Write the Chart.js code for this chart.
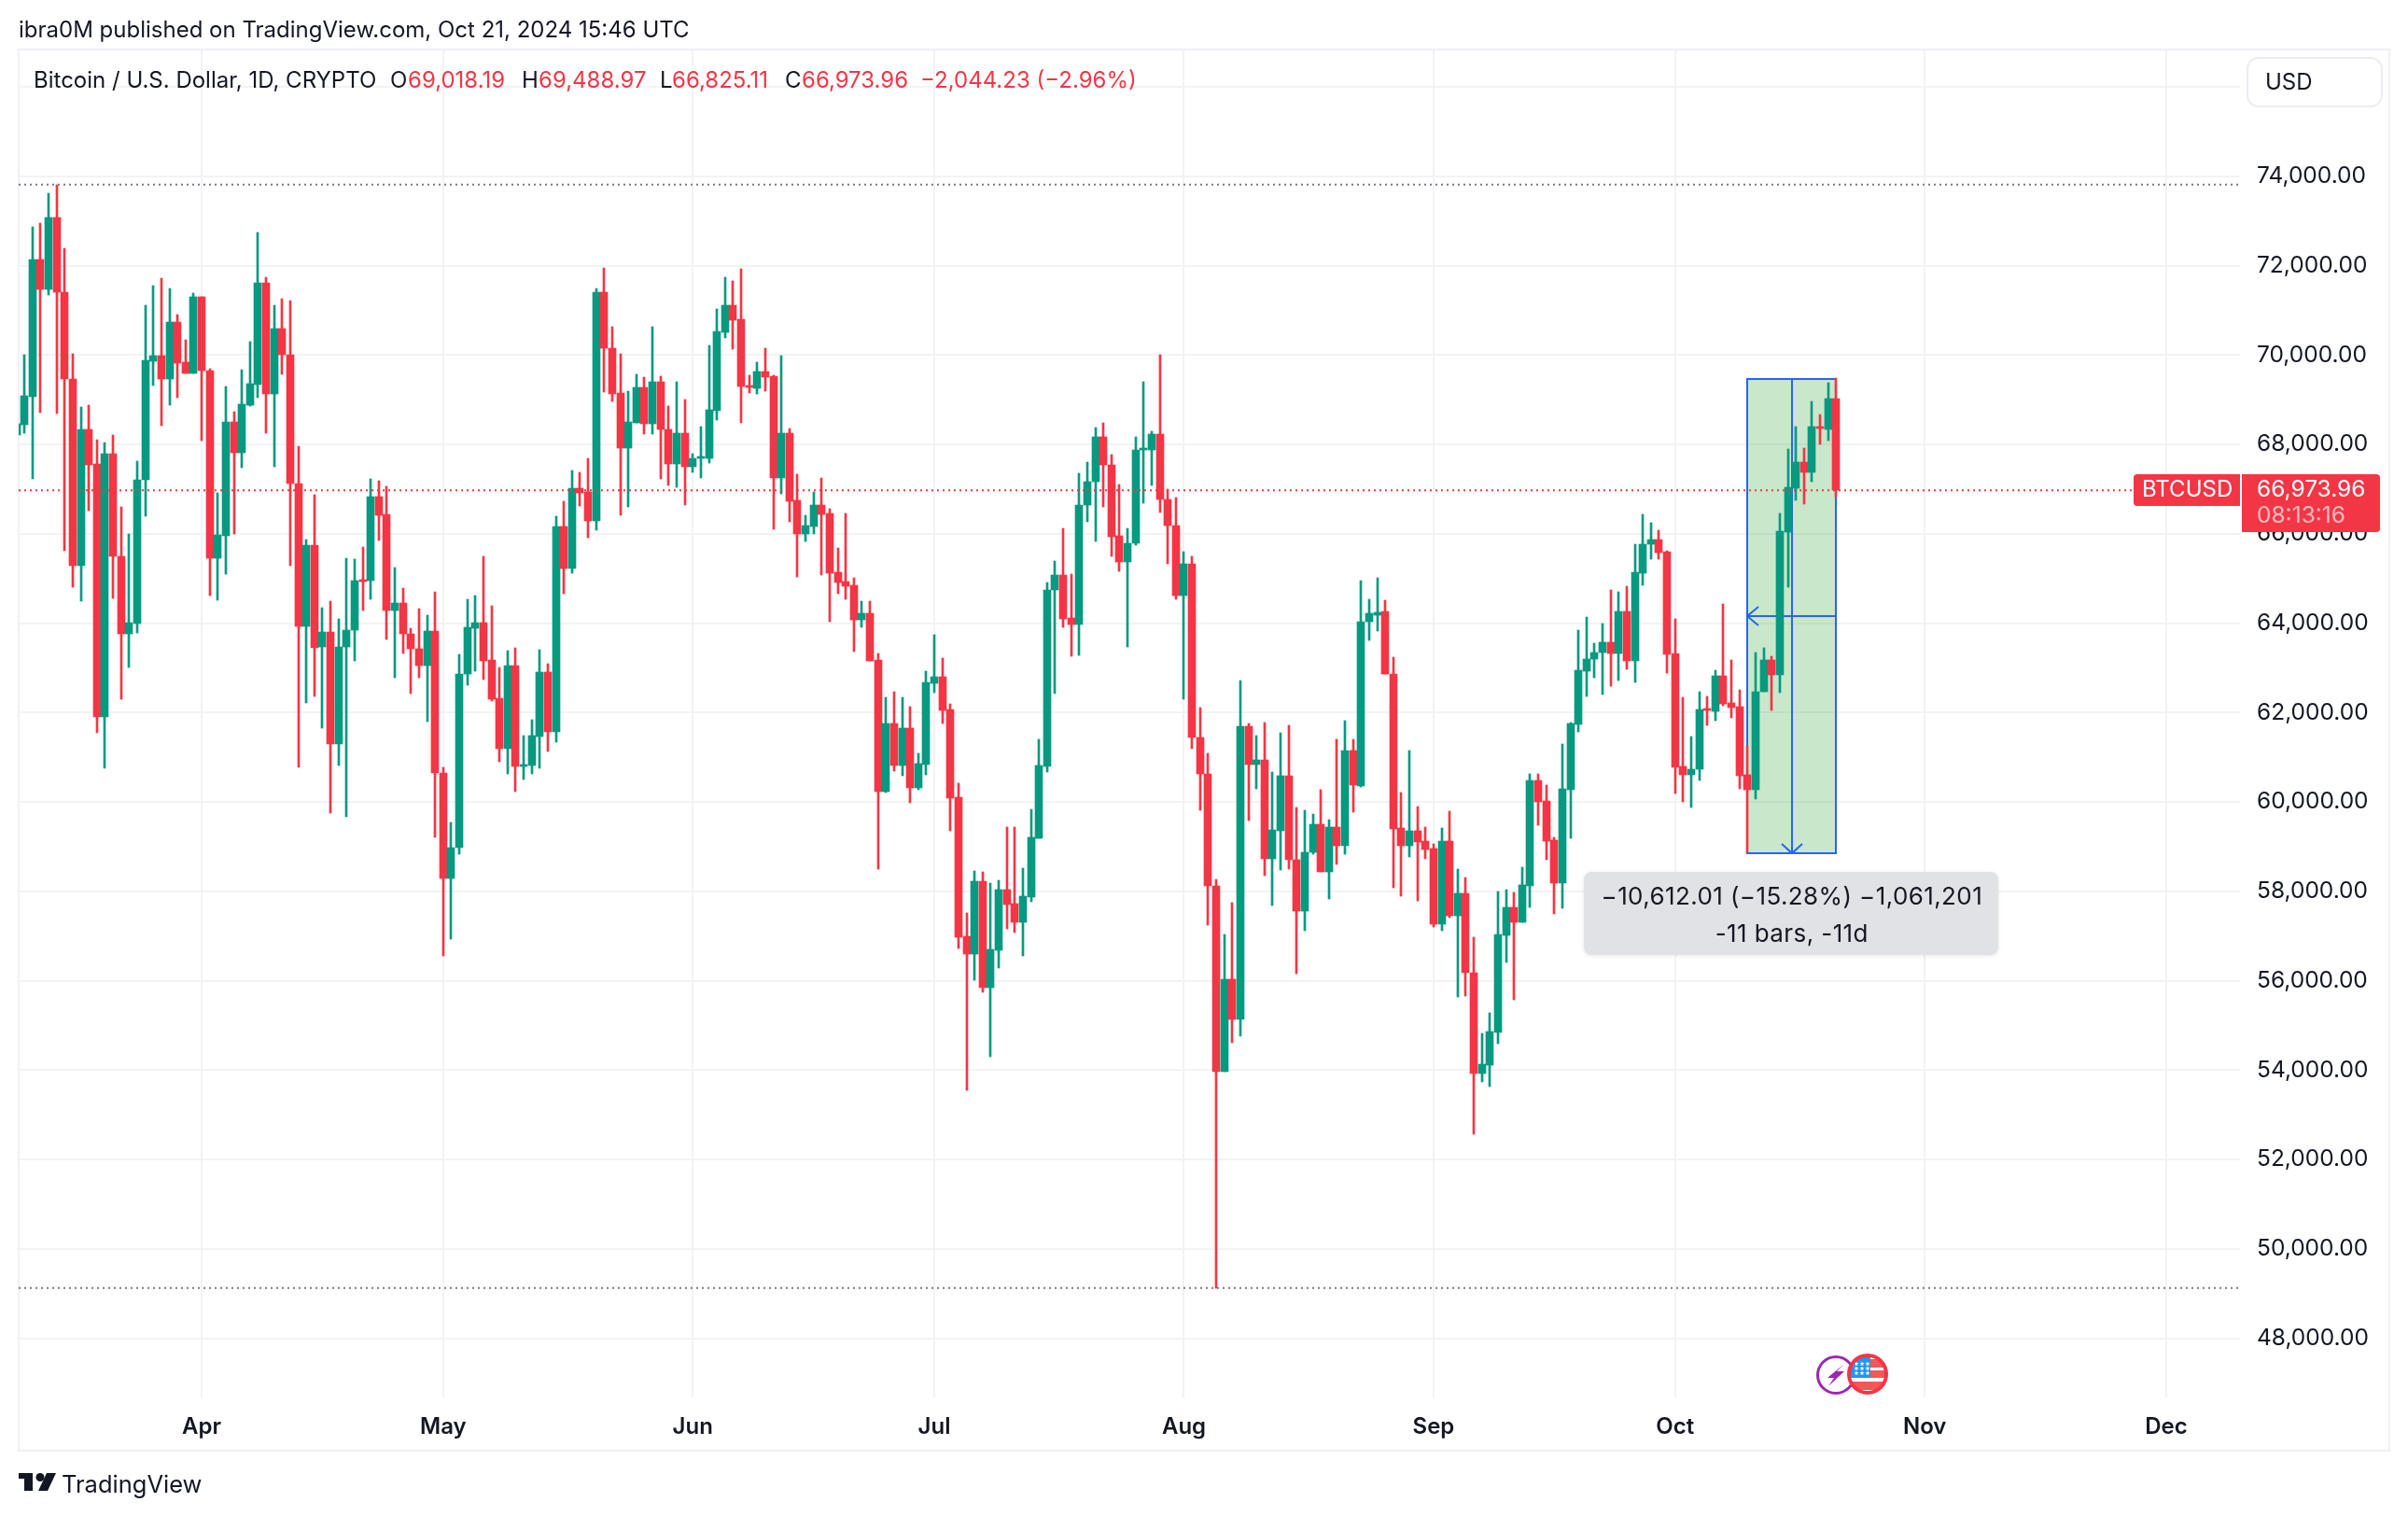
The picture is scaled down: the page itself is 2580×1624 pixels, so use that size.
<!DOCTYPE html>
<html>
<head>
<meta charset="utf-8">
<title>BTCUSD</title>
<script src="https://cdn.jsdelivr.net/npm/chart.js@4/dist/chart.umd.min.js"></script>
<style>
    html, body { margin: 0; padding: 0; background: #ffffff; }
    #wrap { position: relative; width: 2580px; height: 1624px; overflow: hidden; }
    #myChart { position: absolute; left: 0; top: 0; }
    .txt { position: absolute; height: 30px; line-height: 30px; white-space: nowrap; color: #131722;
           font-family: "Inter", "Noto Sans", sans-serif; font-size: 24px; }
    .red { color: #F23645; }
</style>
</head>
<body>
<div id="wrap">
    <canvas id="myChart" width="2580" height="1624"></canvas>
    <div class="txt" style="left:20px;top:17px">ibra0M published on TradingView.com, Oct 21, 2024 15:46 UTC</div>
    <div class="txt" style="left:36px;top:71px">Bitcoin / U.S. Dollar, 1D, CRYPTO</div>
    <div class="txt" style="left:418px;top:71px">O</div>
    <div class="txt red" style="left:437px;top:71px">69,018.19</div>
    <div class="txt" style="left:559px;top:71px">H</div>
    <div class="txt red" style="left:577px;top:71px">69,488.97</div>
    <div class="txt" style="left:707px;top:71px">L</div>
    <div class="txt red" style="left:720px;top:71px">66,825.11</div>
    <div class="txt" style="left:841px;top:71px">C</div>
    <div class="txt red" style="left:859px;top:71px">66,973.96</div>
    <div class="txt red" style="left:986px;top:71px">−2,044.23 (−2.96%)</div>
    <div class="txt" style="left:66px;top:1575px;font-size:25.5px">TradingView</div>
</div>
<script>
// candles, one per day, the first one is 9 Mar (cut by the left edge)
const opens = [
    68215, 68449, 69074, 72134, 71463, 73077, 71416, 69457, 65295, 68337,
    67563, 61909, 67796, 65501, 63765, 63998, 67199, 69858, 69988, 69457,
    70735, 69839, 69597, 71304, 69643, 65463, 65958, 68505, 67815, 68878,
    69345, 71612, 69121, 70595, 70007, 67124, 63933, 65743, 63479, 63811,
    61288, 63469, 63842, 64974, 64943, 66833, 66439, 64279, 64455, 63770,
    63438, 63053, 63832, 60655, 58287, 58972, 62856, 63894, 64019, 63178,
    62326, 61184, 63053, 60810, 60810, 61465, 62908, 61568, 66169, 65234,
    67020, 66937, 66283, 71403, 70146, 69150, 67928, 68487, 69281, 68469,
    69402, 68338, 67573, 68254, 67508, 67704, 67694, 68758, 70512, 71119,
    70801, 69318, 69262, 69635, 69532, 67256, 68254, 66752, 65996, 66164,
    66649, 66453, 65138, 64933, 64849, 64074, 64224, 63179, 60231, 61751,
    60818, 61649, 60313, 60842, 62659, 62803, 62074, 60105, 56991, 56590,
    58224, 55838, 56686, 58031, 57719, 57303, 57871, 59184, 60794, 64740,
    65069, 64124, 63980, 66645, 67161, 68166, 67542, 65953, 65369, 65790,
    67881, 67881, 68234, 66768, 66184, 64608, 65328, 61444, 60630, 58131,
    53961, 56039, 55143, 61702, 60833, 60942, 58729, 59353, 60589, 58715,
    57560, 58878, 59502, 58430, 59448, 59014, 61159, 60362, 64025, 64188,
    64256, 62873, 59422, 59021, 59363, 59132, 58961, 57270, 59132, 57458,
    57953, 56177, 53931, 54119, 54845, 57014, 57646, 57313, 58124, 60490,
    60029, 59149, 58184, 60277, 61745, 62932, 63188, 63342, 63581, 63317,
    64273, 63146, 65130, 65757, 65875, 65604, 63328, 60801, 60613, 60725,
    62096, 62033, 62827, 62214, 62137, 60613, 60265, 62458, 63181, 62834,
    66047, 67015, 67604, 67384, 68404, 68334, 69018.19
];
const highs = [
    68467, 70007, 72871, 72955, 73627, 73814, 72386, 70035, 68841, 68878,
    68104, 68039, 68207, 66602, 65995, 67628, 71117, 71556, 71724, 71481,
    70903, 70343, 71388, 71304, 69690, 66910, 69298, 68729, 69671, 70296,
    72741, 71743, 71117, 71257, 71220, 67955, 65865, 66872, 64351, 64497,
    64102, 65463, 65442, 65712, 67228, 67187, 67062, 65245, 64787, 63894,
    64331, 64185, 64704, 60779, 59533, 63303, 64538, 64621, 65504, 64393,
    63012, 63396, 63458, 61475, 61848, 63417, 63095, 66397, 66730, 67415,
    67373, 67695, 71486, 71953, 70634, 70027, 69197, 69570, 69504, 70633,
    69532, 68861, 69402, 69010, 67797, 68404, 70223, 71034, 71744, 71660,
    71930, 69551, 69840, 70157, 69551, 69990, 68357, 67331, 66416, 66939,
    67256, 66565, 65689, 66453, 65017, 64494, 64494, 63319, 62339, 62470,
    62339, 62134, 61090, 62931, 63748, 63227, 62203, 60417, 57511, 58456,
    58432, 58184, 58248, 59440, 59440, 58520, 59833, 61402, 64917, 65397,
    66129, 65109, 67352, 67610, 68384, 68479, 67773, 67107, 66129, 68166,
    69402, 68302, 70013, 67001, 66809, 65600, 65505, 62110, 61078, 58267,
    57044, 57737, 62721, 61757, 61485, 61784, 60670, 61553, 61716, 59869,
    59815, 59720, 60276, 59611, 61404, 61825, 61404, 64948, 64529, 65008,
    64504, 63231, 60217, 61156, 59901, 59440, 59064, 59422, 59798, 58500,
    58312, 56971, 54811, 55289, 57996, 58039, 57979, 58543, 60618, 60635,
    60387, 59209, 61301, 61780, 63855, 64128, 63547, 63990, 64734, 64692,
    64820, 65771, 66439, 66251, 66084, 65624, 64093, 62346, 61469, 62472,
    62367, 62952, 64434, 63182, 62513, 61261, 63348, 63453, 63265, 66460,
    67894, 68396, 67912, 68958, 68668, 69381, 69488.97
];
const lows = [
    68215, 68253, 67236, 68720, 71351, 68682, 65631, 64810, 64502, 66527,
    61554, 60761, 64558, 62301, 63019, 63784, 66396, 69326, 68430, 68878,
    69056, 69597, 69597, 68085, 64624, 64521, 65109, 66005, 67488, 68850,
    69056, 68244, 67507, 69578, 65295, 60780, 62217, 62366, 61651, 59751,
    60810, 59668, 63147, 64279, 64528, 65847, 63635, 62783, 63333, 62420,
    62773, 61797, 59201, 56552, 56926, 58826, 62607, 62918, 62731, 62264,
    60893, 60623, 60228, 60498, 60623, 60748, 61132, 61340, 64652, 65130,
    66626, 65909, 66075, 69180, 68973, 66425, 66593, 68487, 68226, 68235,
    67228, 67088, 67041, 66649, 67377, 67256, 67582, 68543, 70391, 70139,
    68487, 69150, 69131, 69196, 66099, 66892, 66267, 65035, 65828, 65996,
    65082, 64037, 64662, 64531, 63365, 63906, 63151, 58495, 60212, 60688,
    60585, 59979, 60273, 60609, 62451, 61762, 59352, 56718, 53540, 56014,
    55734, 54293, 56286, 57159, 57071, 56550, 57767, 59184, 60674, 62427,
    63900, 63251, 63283, 66279, 65831, 66605, 65491, 65152, 63468, 65736,
    66686, 67080, 66469, 65328, 64527, 62300, 61186, 59815, 57248, 49124,
    53961, 54614, 54763, 59584, 60290, 58348, 57683, 58484, 58497, 56162,
    57126, 58837, 58430, 57832, 58606, 58837, 59774, 60345, 63616, 63820,
    62864, 58082, 57894, 58773, 57791, 58731, 57211, 57117, 57415, 55631,
    55656, 52556, 53735, 53632, 54597, 56416, 55579, 57313, 57646, 59482,
    58713, 57492, 57620, 59192, 61574, 62369, 62770, 62394, 62599, 62727,
    62958, 62668, 64838, 65443, 65443, 62875, 60182, 59994, 59868, 60474,
    61706, 61810, 62144, 61873, 60286, 58866, 60056, 62458, 62040, 62437,
    64807, 66751, 66663, 67164, 67999, 68079, 66825.11
];
const closes = [
    68467, 69083, 72134, 71463, 73077, 71416, 69457, 65295, 68337, 67553,
    61909, 67796, 65501, 63765, 64008, 67208, 69886, 69988, 69457, 70735,
    69830, 69597, 71304, 69643, 65463, 65977, 68505, 67815, 68897, 69363,
    71612, 69121, 70595, 69998, 67115, 63933, 65743, 63457, 63811, 61288,
    63479, 63853, 64954, 64933, 66833, 66418, 64279, 64455, 63760, 63427,
    63053, 63832, 60644, 58287, 58982, 62866, 63915, 64019, 63157, 62306,
    61184, 63053, 60789, 60841, 61475, 62908, 61568, 66169, 65234, 67020,
    66916, 66283, 71403, 70146, 69139, 67928, 68506, 69281, 68469, 69402,
    68329, 67573, 68254, 67508, 67694, 67732, 68777, 70531, 71119, 70783,
    69299, 69271, 69635, 69504, 67256, 68254, 66733, 65996, 66183, 66649,
    66435, 65119, 64914, 64830, 64074, 64224, 63151, 60231, 61751, 60818,
    61649, 60324, 60858, 62683, 62803, 62050, 60089, 56967, 56590, 58224,
    55838, 56694, 58031, 57703, 57303, 57887, 59208, 60817, 64748, 65069,
    64100, 63980, 66645, 67175, 68166, 67542, 65939, 65369, 65790, 67881,
    67922, 68234, 66768, 66184, 64608, 65328, 61444, 60630, 58117, 53961,
    56039, 55143, 61702, 60833, 60942, 58729, 59367, 60589, 58701, 57560,
    58878, 59502, 58430, 59448, 59014, 61159, 60371, 64043, 64213, 64247,
    62864, 59397, 59021, 59363, 59106, 58944, 57270, 59132, 57450, 57953,
    56169, 53931, 54128, 54854, 57040, 57646, 57313, 58141, 60490, 60012,
    59132, 58184, 60302, 61754, 62949, 63197, 63342, 63581, 63317, 64273,
    63146, 65144, 65771, 65875, 65583, 63307, 60780, 60613, 60739, 62075,
    62061, 62827, 62200, 62117, 60592, 60265, 62472, 63181, 62834, 66063,
    67032, 67604, 67384, 68396, 68378, 69018.19, 66973.96
];

const priceTicks = [48000, 50000, 52000, 54000, 56000, 58000, 60000, 62000, 64000, 66000, 68000, 70000, 72000, 74000, 76000];
const monthTicks = [23, 53, 84, 114, 145, 176, 206, 237, 267];
const monthLabels = ["Apr", "May", "Jun", "Jul", "Aug", "Sep", "Oct", "Nov", "Dec"];

const topLevel = 73814;
const bottomLevel = 49124;
const lastPrice = 66973.96;

// measure tool
const measureFrom = 215;
const measureTo = 226;
const measureHigh = 69488.97;
const measureLow = 58876.96;
const measureLines = ["−10,612.01 (−15.28%) −1,061,201", "-11 bars, -11d"];

const upColor = "#089981";
const downColor = "#F23645";
const gridColor = "#f2f3f5";
const textColor = "#131722";
const fontName = "Inter, 'Noto Sans', sans-serif";

const xMin = 0.278;
const xMax = 276.16;
const yMin = 46674;
const yMax = 76818;

const candleColors = closes.map((c, i) => (c >= opens[i] ? upColor : downColor));

function roundedBox(ctx, x, y, w, h, r) {
    ctx.beginPath();
    ctx.roundRect(x, y, w, h, r);
}

function line(ctx, x1, y1, x2, y2) {
    ctx.beginPath();
    ctx.moveTo(x1, y1);
    ctx.lineTo(x2, y2);
    ctx.stroke();
}

// bars get whole pixels, otherwise the wicks go blurry
const crispBars = {
    id: "crispBars",
    afterDatasetsUpdate(chart) {
        chart.data.datasets.forEach((ds, index) => {
            if (ds.type === "line") {
                return;
            }
            chart.getDatasetMeta(index).data.forEach((bar) => {
                bar.x = Math.round(bar.x);
                bar.y = Math.round(bar.y);
                bar.base = Math.round(bar.base);
                if (Math.abs(bar.y - bar.base) < 2) {
                    bar.base = bar.y + 2;
                }
            });
        });
    }
};

const frame = {
    id: "frame",
    beforeDraw(chart) {
        const ctx = chart.ctx;
        ctx.save();
        ctx.strokeStyle = "#f0f0f5";
        ctx.lineWidth = 2;
        ctx.strokeRect(20, 53, 2540, 1501);
        // USD button
        ctx.strokeStyle = "#ececf1";
        roundedBox(ctx, 2408, 62, 144, 52, 12);
        ctx.stroke();
        ctx.fillStyle = textColor;
        ctx.font = "24px " + fontName;
        ctx.textBaseline = "middle";
        ctx.fillText("USD", 2427, 89);
        ctx.restore();
    }
};

// the box behind the candles
const measureBack = {
    id: "measureBack",
    beforeDatasetsDraw(chart) {
        const { ctx, scales } = chart;
        const left = Math.round(scales.x.getPixelForValue(measureFrom));
        const right = Math.round(scales.x.getPixelForValue(measureTo));
        const top = Math.round(scales.y.getPixelForValue(measureHigh)) + 1;
        const bottom = Math.round(scales.y.getPixelForValue(measureLow)) + 1;
        const midX = Math.round((left + right) / 2);
        const midY = Math.round((top + bottom) / 2);
        ctx.save();
        ctx.fillStyle = "rgba(76, 175, 80, 0.3)";
        ctx.fillRect(left, top, right - left, bottom - top);
        ctx.strokeStyle = "#2962FF";
        ctx.lineWidth = 2;
        ctx.strokeRect(left, top, right - left, bottom - top);
        line(ctx, left, midY, right, midY);
        line(ctx, midX, top, midX, bottom);
        line(ctx, left, midY, left + 12, midY - 10);
        line(ctx, left, midY, left + 12, midY + 10);
        line(ctx, midX, bottom, midX - 11, bottom - 10);
        line(ctx, midX, bottom, midX + 11, bottom - 10);
        ctx.restore();
    }
};

function star(ctx, x, y, r) {
    ctx.beginPath();
    for (let k = 0; k < 10; k++) {
        const radius = k % 2 === 0 ? r : r * 0.45;
        const angle = -Math.PI / 2 + k * Math.PI / 5;
        ctx.lineTo(x + radius * Math.cos(angle), y + radius * Math.sin(angle));
    }
    ctx.closePath();
    ctx.fill();
}

function drawEvents(ctx) {
    // purple marker
    ctx.fillStyle = "#ffffff";
    ctx.strokeStyle = "#9C27B0";
    ctx.lineWidth = 3;
    ctx.beginPath();
    ctx.arc(1967, 1473, 19.5, 0, Math.PI * 2);
    ctx.fill();
    ctx.stroke();
    ctx.fillStyle = "#9C27B0";
    ctx.beginPath();
    [[1976, 1461], [1958, 1476], [1965, 1476], [1959, 1485], [1976, 1469], [1968, 1469]].forEach((p) => ctx.lineTo(p[0], p[1]));
    ctx.closePath();
    ctx.fill();

    // red marker with the flag
    ctx.save();
    ctx.fillStyle = "#ffffff";
    ctx.beginPath();
    ctx.arc(2001, 1472, 20, 0, Math.PI * 2);
    ctx.fill();
    ctx.clip();
    ctx.fillStyle = "#f0585a";
    ctx.fillRect(1981, 1456, 40, 9);
    ctx.fillRect(1981, 1468, 40, 8);
    ctx.fillRect(1981, 1480, 40, 9);
    ctx.fillStyle = "#2196F3";
    ctx.fillRect(1981, 1452, 23, 24);
    ctx.fillStyle = "#ffffff";
    [1461, 1466, 1471].forEach((y) => {
        [1989, 1995, 2001].forEach((x) => star(ctx, x, y, 2.6));
    });
    ctx.restore();
    ctx.strokeStyle = "#F23645";
    ctx.lineWidth = 4;
    ctx.beginPath();
    ctx.arc(2001, 1472, 20, 0, Math.PI * 2);
    ctx.stroke();
}

function drawLogo(ctx) {
    ctx.fillStyle = textColor;
    ctx.beginPath();
    [[20, 1578], [35, 1578], [35, 1597], [26, 1597], [26, 1584], [20, 1584]].forEach((p) => ctx.lineTo(p[0], p[1]));
    ctx.closePath();
    ctx.fill();
    ctx.beginPath();
    ctx.arc(43, 1582.5, 4.5, 0, Math.PI * 2);
    ctx.fill();
    ctx.beginPath();
    [[50, 1578], [60, 1578], [51, 1597], [41, 1597]].forEach((p) => ctx.lineTo(p[0], p[1]));
    ctx.closePath();
    ctx.fill();
}

const overlays = {
    id: "overlays",
    afterDraw(chart) {
        const { ctx, scales } = chart;
        const priceY = Math.round(scales.y.getPixelForValue(lastPrice));
        const midX = (scales.x.getPixelForValue(measureFrom) + scales.x.getPixelForValue(measureTo)) / 2;

        ctx.save();
        // measure label
        ctx.shadowColor = "rgba(0, 0, 0, 0.10)";
        ctx.shadowBlur = 4;
        ctx.shadowOffsetY = 1;
        ctx.fillStyle = "rgba(224, 225, 230, 0.95)";
        roundedBox(ctx, 1697, 934, 444, 89, 8);
        ctx.fill();
        ctx.shadowColor = "transparent";
        ctx.fillStyle = textColor;
        ctx.font = "26px " + fontName;
        ctx.letterSpacing = "0.4px";
        ctx.textAlign = "center";
        ctx.textBaseline = "middle";
        ctx.fillText(measureLines[0], midX, 961);
        ctx.fillText(measureLines[1], midX, 1001);
        ctx.letterSpacing = "0px";
        ctx.textAlign = "left";

        // last price tags
        ctx.font = "24.5px " + fontName;
        ctx.fillStyle = downColor;
        roundedBox(ctx, 2286, priceY - 17, 114, 34, [4, 0, 0, 4]);
        ctx.fill();
        roundedBox(ctx, 2402, priceY - 17, 148, 62, [0, 4, 4, 0]);
        ctx.fill();
        ctx.fillStyle = "#ffffff";
        ctx.font = "24px " + fontName;
        ctx.fillText("BTCUSD", 2295, priceY);
        ctx.font = "24.5px " + fontName;
        ctx.fillText("66,973.96", 2418, priceY);
        ctx.fillStyle = "rgba(255, 255, 255, 0.65)";
        ctx.fillText("08:13:16", 2418, priceY + 28);

        drawEvents(ctx);
        drawLogo(ctx);
        ctx.restore();
    }
};

function levelLine(label, value, color) {
    return {
        type: "line",
        label: label,
        data: [{ x: xMin, y: value }, { x: xMax, y: value }],
        borderColor: color,
        borderWidth: 2,
        borderDash: [2, 4],
        pointRadius: 0,
        order: 0
    };
}

new Chart(document.getElementById("myChart"), {
    type: "bar",
    data: {
        datasets: [
            levelLine("top", topLevel, "#787b86"),
            levelLine("bottom", bottomLevel, "#787b86"),
            levelLine("last", lastPrice, downColor),
            {
                label: "body",
                data: opens.map((o, i) => ({ x: i, y: [o, closes[i]] })),
                backgroundColor: candleColors,
                barThickness: 8,
                grouped: false,
                order: 1
            },
            {
                label: "wick",
                data: lows.map((l, i) => ({ x: i, y: [l, highs[i]] })),
                backgroundColor: candleColors,
                barThickness: 2,
                grouped: false,
                order: 2
            }
        ]
    },
    options: {
        responsive: false,
        animation: false,
        events: [],
        layout: { padding: { left: 20, top: 54, right: 20, bottom: 70 } },
        plugins: { legend: { display: false }, tooltip: { enabled: false } },
        scales: {
            x: {
                type: "linear",
                offset: false,
                min: xMin,
                max: xMax,
                border: { display: false },
                grid: { color: gridColor, lineWidth: 2, drawTicks: false, offset: false },
                afterBuildTicks(scale) {
                    scale.ticks = monthTicks.map((v) => ({ value: v }));
                },
                afterFit(scale) {
                    scale.height = 57;
                },
                ticks: {
                    autoSkip: false,
                    maxRotation: 0,
                    padding: 17,
                    color: textColor,
                    font: { family: fontName, size: 24, weight: "600" },
                    callback: (value) => monthLabels[monthTicks.indexOf(value)]
                }
            },
            y: {
                position: "right",
                min: yMin,
                max: yMax,
                border: { display: false },
                grid: { color: gridColor, lineWidth: 2, drawTicks: false },
                afterBuildTicks(scale) {
                    scale.ticks = priceTicks.map((v) => ({ value: v }));
                },
                afterFit(scale) {
                    scale.width = 160;
                },
                ticks: {
                    padding: 18,
                    color: textColor,
                    font: { family: fontName, size: 24.5 },
                    callback: (value) => (value >= 76000 ? "" : value.toLocaleString("en-US", { minimumFractionDigits: 2 }))
                }
            }
        }
    },
    plugins: [frame, crispBars, measureBack, overlays]
});
</script>
</body>
</html>
